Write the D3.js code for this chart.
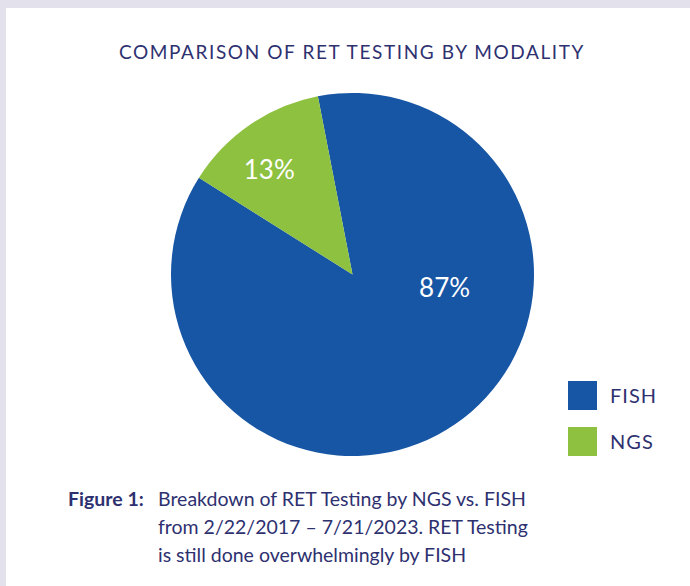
<!DOCTYPE html>
<html lang="en">
<head>
	<meta charset="UTF-8">
	<title>Comparison of RET testing by modality</title>
	<script src="https://cdn.jsdelivr.net/npm/d3@7"></script>
	<style>
		html, body {
			margin: 0;
			padding: 0;
			background: #e3e2ec;
		}
		svg {
			display: block;
			font-family: "Lato", "Open Sans", sans-serif;
		}
		.title {
			fill: #2e3170;
			font-size: 19px;
			letter-spacing: 1.6px;
		}
		.slice-label {
			fill: #fff;
			font-size: 26px;
		}
		.legend text {
			fill: #2e3170;
			font-size: 20px;
			letter-spacing: 1px;
		}
		.caption {
			fill: #2e3170;
			font-size: 19.5px;
		}
		.caption .fig {
			font-weight: bold;
		}
	</style>
</head>
<body>
<script>
	// chart data
	var categories = ["FISH", "NGS"];
	var shares = [87, 13];
	var sliceColors = ["#1755a5", "#8dc13f"];
	var titleText = "COMPARISON OF RET TESTING BY MODALITY";
	var captionLead = "Figure 1:";
	var captionLines = [
		"Breakdown of RET Testing by NGS vs. FISH",
		"from 2/22/2017 \u2013 7/21/2023. RET Testing",
		"is still done overwhelmingly by FISH"
	];

	var width = 690,
		height = 586;

	var cx = 352.5,
		cy = 274.5,
		radius = 181.5;

	var deg = Math.PI / 180;
	var startAngle = -11 * deg;

	var svg = d3.select("body").append("svg")
		.attr("width", width)
		.attr("height", height);

	// white panel on the grey frame
	svg.append("rect")
		.attr("x", 6)
		.attr("y", 8)
		.attr("width", width - 6)
		.attr("height", height - 8)
		.attr("fill", "#fff");

	svg.append("text")
		.attr("class", "title")
		.attr("x", 352)
		.attr("y", 59)
		.attr("text-anchor", "middle")
		.text(titleText);

	var color = d3.scaleOrdinal()
		.domain(categories)
		.range(sliceColors);

	var rows = categories.map(function (c, i) {
		return {name: c, value: shares[i]};
	});

	var pie = d3.pie()
		.sort(null)
		.value(function (d) { return d.value; })
		.startAngle(startAngle)
		.endAngle(startAngle + 2 * Math.PI);

	var arc = d3.arc()
		.innerRadius(0)
		.outerRadius(radius);

	var g = svg.append("g")
		.attr("transform", "translate(" + cx + "," + cy + ")");

	var arcs = pie(rows);

	g.selectAll("path")
		.data(arcs)
		.enter().append("path")
		.attr("d", arc)
		.attr("fill", function (d) { return color(d.data.name); });

	// label spots: NGS sits near the outer rim, FISH right of the centre
	var labelSpot = {
		FISH: function (d) { return d3.pointRadial(98 * deg, 93); },
		NGS: function (d) { return d3.pointRadial((d.startAngle + d.endAngle) / 2 - 4 * deg, 134); }
	};

	g.selectAll(".slice-label")
		.data(arcs)
		.enter().append("text")
		.attr("class", "slice-label")
		.attr("text-anchor", "middle")
		.attr("dy", "0.36em")
		.attr("transform", function (d) {
			return "translate(" + labelSpot[d.data.name](d) + ")";
		})
		.text(function (d) { return d.data.value + "%"; });

	// legend
	var legend = svg.append("g")
		.attr("class", "legend")
		.attr("transform", "translate(568,381)");

	var item = legend.selectAll("g")
		.data(categories)
		.enter().append("g")
		.attr("transform", function (d, i) { return "translate(0," + (i * 46) + ")"; });

	item.append("rect")
		.attr("width", 29)
		.attr("height", 29)
		.attr("fill", function (d) { return color(d); });

	item.append("text")
		.attr("x", 42)
		.attr("y", 22)
		.text(function (d) { return d; });

	// caption
	var caption = svg.append("g").attr("class", "caption");

	caption.append("text")
		.attr("class", "fig")
		.attr("x", 68)
		.attr("y", 506)
		.text(captionLead);

	caption.selectAll(".line")
		.data(captionLines)
		.enter().append("text")
		.attr("class", "line")
		.attr("x", 158)
		.attr("y", function (d, i) { return 506 + i * 28; })
		.text(function (d) { return d; });
</script>
</body>
</html>
